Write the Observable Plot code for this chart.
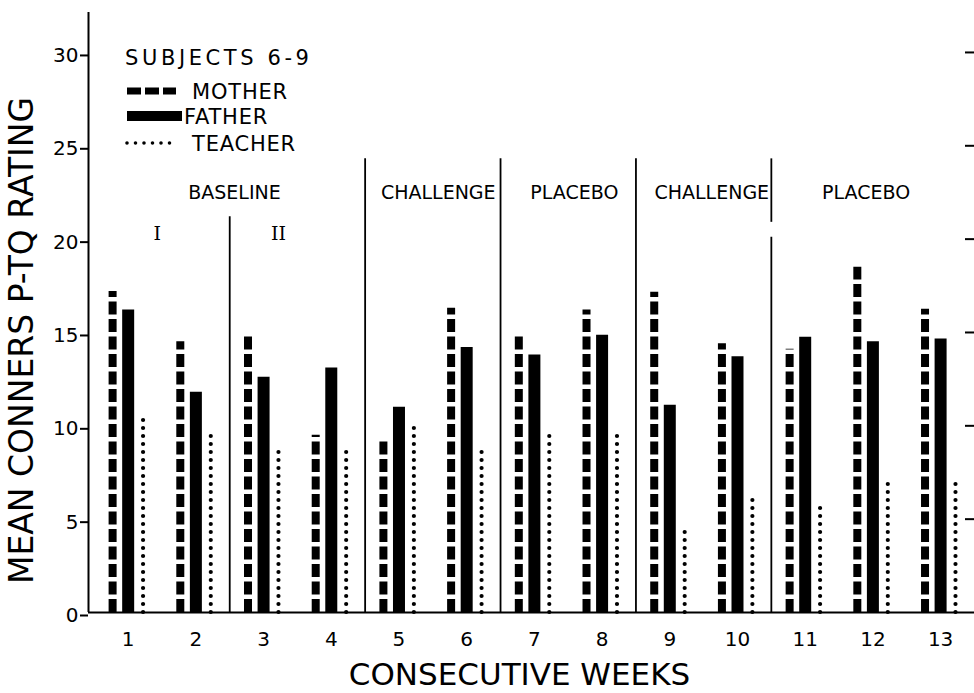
<!DOCTYPE html>
<html><head><meta charset="utf-8">
<script src="https://cdn.jsdelivr.net/npm/d3@7"></script>
<script src="https://cdn.jsdelivr.net/npm/@observablehq/plot@0.6"></script>
<style>
html,body{margin:0;padding:0;background:#fff;}
#chart{position:relative;width:974px;height:693px;}
</style></head><body><div id="chart"></div>
<script>
// ---- data ----
const weeks   = [1,2,3,4,5,6,7,8,9,10,11,12,13];
const mother  = [17.2,14.5,14.8,9.5,9.35,16.3,14.85,16.2,17.15,14.4,14.1,18.5,16.25];
const father  = [16.2,11.8,12.6,13.1,11.0,14.2,13.8,14.85,11.1,13.7,14.75,14.5,14.65];
const teacher = [10.3,9.7,8.95,8.95,9.9,8.8,9.45,9.8,4.6,6.0,5.9,6.9,7.0];
const yTicks  = [0,5,10,15,20,25,30];
const phaseNames = ["BASELINE","CHALLENGE","PLACEBO","CHALLENGE","PLACEBO"];
const phaseX  = [2.57,5.58,7.59,9.62,11.9];
const phaseY  = 22.45;
const subPhaseNames = ["I","II"];
const subPhaseX = [1.43,3.22];
const subPhaseY = 20.3;
const dividerX  = [2.5,4.5,6.5,8.5,10.5,10.5];
const dividerY1 = [0,0,0,0,0,20.9];
const dividerY2 = [21.2,24.3,24.3,24.3,20.1,24.3];
const legendTitle = "SUBJECTS 6-9";
const seriesNames = ["MOTHER","FATHER","TEACHER"];
const yLabel = "MEAN CONNERS P-TQ RATING";
const xLabel = "CONSECUTIVE WEEKS";

// ---- layout ----
const xDomain = [0.414, 13.353];
const yDomain = [0, 32.14];
const offM = -0.23, offT = 0.22;
const FONT = "DejaVu Sans";

const rows = weeks.map((w,i)=>({week:w, mother:mother[i], father:father[i], teacher:teacher[i]}));
const dividers = dividerX.map((x,i)=>({x, y1:dividerY1[i], y2:dividerY2[i]}));

const chart = Plot.plot({
  width: 974, height: 693,
  marginLeft: 88, marginRight: 10, marginTop: 12, marginBottom: 81,
  style: {fontFamily: FONT, color: "black", background: "white"},
  x: {type: "linear", domain: xDomain},
  y: {domain: yDomain},
  marks: [
    Plot.ruleX(dividers, {x: "x", y1: "y1", y2: "y2", strokeWidth: 1.8, stroke: "black"}),
    Plot.ruleX(rows, {x: d => d.week + offM, y1: 0, y2: "mother", strokeWidth: 8, stroke: "black", strokeDasharray: "13,4.5"}),
    Plot.ruleX(rows, {x: "week", y1: 0, y2: "father", strokeWidth: 12, stroke: "black"}),
    Plot.ruleX(rows, {x: d => d.week + offT, y1: 0, y2: "teacher", strokeWidth: 4.2, stroke: "black", strokeDasharray: "0,8", strokeLinecap: "round"}),
    Plot.ruleY([0], {strokeWidth: 2, stroke: "black", insetRight: -10}),
    Plot.ruleX([xDomain[0]], {y1: yDomain[0], y2: yDomain[1], strokeWidth: 2, stroke: "black"}),
    Plot.axisY({anchor: "left", ticks: yTicks, tickSize: 8, tickPadding: 2, fontSize: 20, strokeWidth: 2, dy: 3}),
    Plot.axisY({anchor: "right", ticks: yTicks.filter(v => v > 0), tickSize: 9, tickFormat: () => "", strokeWidth: 2}),
    Plot.axisX({ticks: weeks, tickSize: 0, tickPadding: 19, fontSize: 20, tickFormat: d => String(d)}),
    Plot.text(phaseNames, {x: (d,i) => phaseX[i], y: () => phaseY, fontSize: 19, fill: "black"}),
    Plot.text(subPhaseNames, {x: (d,i) => subPhaseX[i], y: () => subPhaseY, fontSize: 19, fill: "black", fontFamily: "DejaVu Serif"}),
    Plot.text([yLabel], {frameAnchor: "left", textAnchor: "middle", lineAnchor: "middle", dx: -66, dy: 28, rotate: -90, fontSize: 33, fill: "black"}),
    Plot.text([xLabel], {frameAnchor: "bottom", textAnchor: "middle", lineAnchor: "middle", dx: -7, dy: 63, fontSize: 31, fill: "black"})
  ]
});
document.getElementById("chart").appendChild(chart);

// ---- legend (drawn into the same svg) ----
const svg = d3.select(chart);
const lg = svg.append("g").attr("font-family", FONT).attr("fill", "black").attr("text-anchor", "start");
lg.append("text").attr("x", 125).attr("y", 58).attr("dy", "0.35em")
  .attr("font-size", 21).attr("letter-spacing", 3.6).text(legendTitle);
const sampleStyles = [
  {w: 7, dash: "14,4", cap: "butt", x2: 176},
  {w: 10, dash: null, cap: "butt", x2: 182},
  {w: 3.6, dash: "0,8.5", cap: "round", x2: 178}
];
const rowY = [91, 116, 143];
const textX = [192, 184, 192];
seriesNames.forEach((name, i) => {
  const s = sampleStyles[i];
  const line = lg.append("line").attr("x1", 127).attr("x2", s.x2)
    .attr("y1", rowY[i]).attr("y2", rowY[i])
    .attr("stroke", "black").attr("stroke-width", s.w).attr("stroke-linecap", s.cap);
  if (s.dash) line.attr("stroke-dasharray", s.dash);
  lg.append("text").attr("x", textX[i]).attr("y", rowY[i]).attr("dy", "0.36em")
    .attr("font-size", 21).attr("letter-spacing", 0.8).text(name);
});
</script></body></html>
